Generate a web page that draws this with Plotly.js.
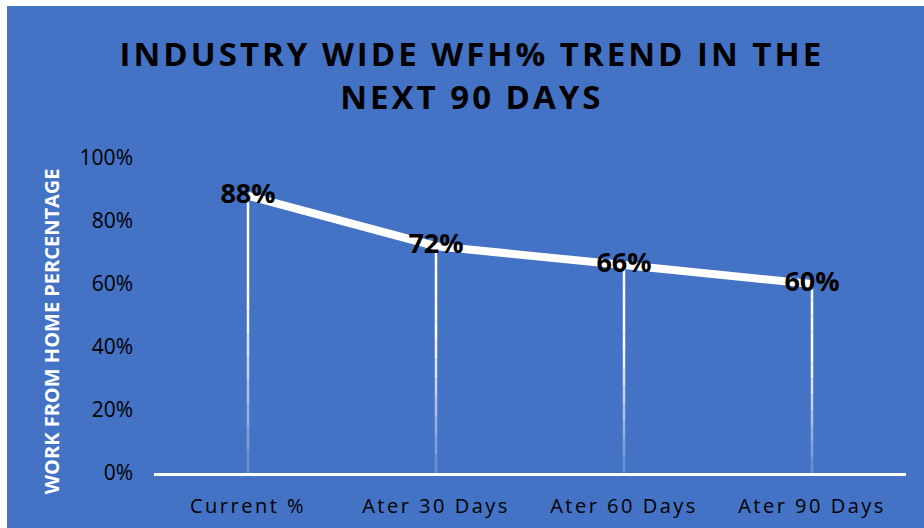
<!DOCTYPE html>
<html>
<head>
<meta charset="utf-8">
<script src="https://cdn.plot.ly/plotly-3.0.1.min.js"></script>
<style>
  html, body { margin: 0; padding: 0; background: #ffffff; width: 924px; height: 528px; overflow: hidden; }
  #chart { position: absolute; left: 7px; top: 6px; width: 917px; height: 522px; }
  .gtitle { letter-spacing: 3px; }
  .xtick text { letter-spacing: 2.5px; }
</style>
</head>
<body>
<div id="chart"></div>
<script>
const categories = ["Current %", "Ater 30 Days", "Ater 60 Days", "Ater 90 Days"];
const wfhValues = [0.88, 0.72, 0.66, 0.60];
const valueLabels = ["88%", "72%", "66%", "60%"];
const yTickValues = [0, 0.2, 0.4, 0.6, 0.8, 1.0];
const yTickLabels = ["0%", "20%", "40%", "60%", "80%", "100%"];
const yAxisTitle = "WORK FROM HOME PERCENTAGE";

const FONT = "'Open Sans', 'Liberation Sans', sans-serif";
const BLUE = "#4472C4";

// drop lines: white, fading toward the axis
const shapes = [];
const nSeg = 12;
categories.forEach((c, i) => {
  const v = wfhValues[i];
  for (let k = 0; k < nSeg; k++) {
    const y0 = v * k / nSeg;
    const y1 = v * (k + 1) / nSeg;
    const op = 0.15 + 0.85 * Math.min(1, (k + 0.5) / (nSeg * 0.6));
    shapes.push({
      type: "line", xref: "x", yref: "y",
      x0: i, x1: i, y0: y0, y1: y1,
      line: { color: "rgba(255,255,255," + op.toFixed(3) + ")", width: 2.5 },
      layer: "below"
    });
  }
});

const trace = {
  type: "scatter",
  mode: "lines+text",
  x: [0, 1, 2, 3],
  y: wfhValues,
  text: valueLabels,
  textposition: "middle center",
  textfont: { family: FONT, size: 27, color: "#000000", weight: 700 },
  line: { color: "#ffffff", width: 8 },
  hoverinfo: "none",
  cliponaxis: false
};

const layout = {
  width: 917, height: 522,
  paper_bgcolor: BLUE, plot_bgcolor: BLUE,
  margin: { l: 147, r: 18, t: 152, b: 55 },
  showlegend: false,
  font: { family: FONT, color: "#000000" },
  title: {
    text: "INDUSTRY WIDE WFH% TREND IN THE<br>NEXT 90 DAYS",
    font: { family: FONT, size: 33, color: "#000000", weight: 700 },
    x: 0.507, xanchor: "center", xref: "container",
    y: 0.885, yanchor: "top", yref: "container"
  },
  xaxis: {
    range: [-0.5, 3.5],
    tickvals: [0, 1, 2, 3],
    ticktext: categories,
    showgrid: false, zeroline: false,
    showline: true, linecolor: "#ffffff", linewidth: 3,
    ticks: "",
    ticklabelstandoff: 13,
    tickfont: { family: FONT, size: 20, color: "#000000" }
  },
  yaxis: {
    range: [0, 1],
    tickvals: yTickValues,
    ticktext: yTickLabels,
    showgrid: false, zeroline: false, showline: false,
    ticks: "",
    ticklabelstandoff: 20,
    tickfont: { family: FONT, size: 21, color: "#000000" }
  },
  annotations: [{
    text: yAxisTitle,
    xref: "paper", yref: "paper",
    x: 0, y: 0.45, xanchor: "center", yanchor: "middle",
    xshift: -103, textangle: -90, showarrow: false,
    font: { family: FONT, size: 20, color: "#ffffff", weight: 700 }
  }],
  shapes: shapes
};

Plotly.newPlot("chart", [trace], layout, { staticPlot: true, displayModeBar: false });
</script>
</body>
</html>
